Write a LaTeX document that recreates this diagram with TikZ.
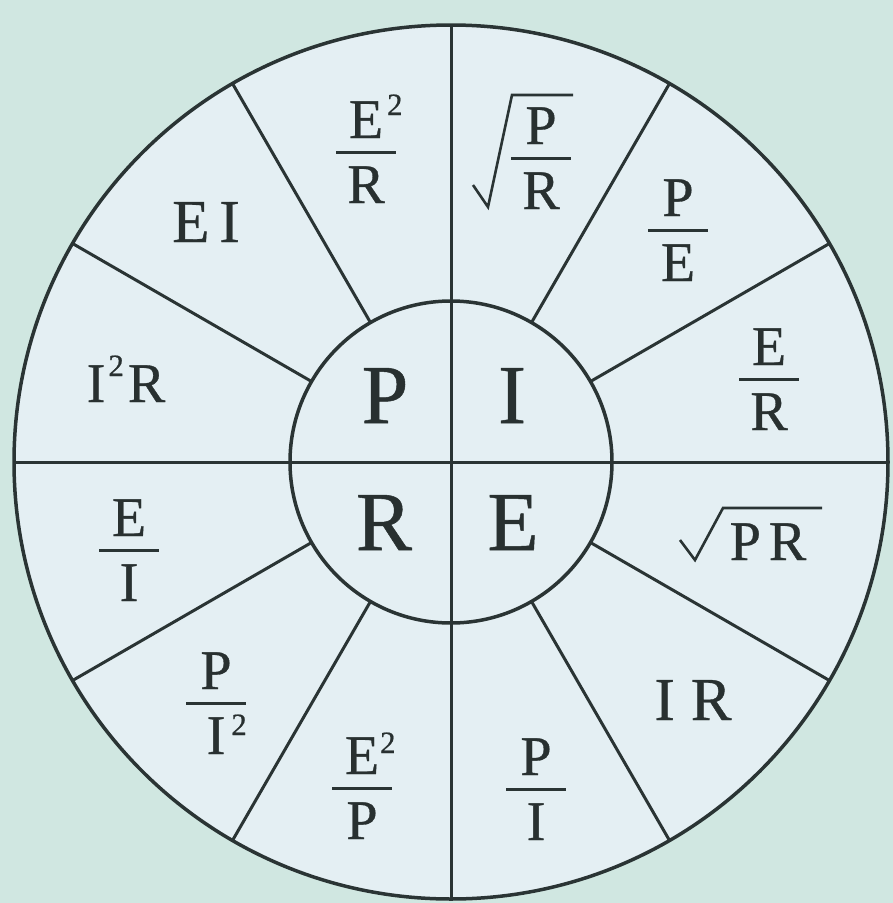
\documentclass[tikz,border=0pt]{standalone}
\usepackage{fontspec}
\setmainfont{Liberation Serif}[FakeBold=0.6]
\usetikzlibrary{calc}
\definecolor{bgout}{RGB}{208,231,225}
\definecolor{bgin}{RGB}{228,239,243}
\definecolor{linec}{RGB}{42,52,52}
\definecolor{textc}{RGB}{40,48,48}
\newcommand\mysup[2]{\raisebox{#1}{\fontsize{31}{31}\selectfont #2}}
\newcommand\fracnode[5]{%
  \node[ft,anchor=base] (#1-n) at (#2,#3-14) {#4};
  \node[ft,anchor=base] (#1-d) at (#2,#3+51) {#5};
  \draw[fracrule] (#2-30,#3) -- (#2+30,#3);
}
\begin{document}
\begin{tikzpicture}[x=1pt,y=-1pt,
  ln/.style={draw=linec,line width=3pt},
  circ/.style={draw=linec,line width=3.5pt},
  fracrule/.style={draw=linec,line width=3pt},
  radical/.style={draw=linec,line width=2.6pt,line join=miter},
  ft/.style={text=textc,font=\fontsize{56}{56}\selectfont,inner sep=0pt},
  ftl/.style={text=textc,font=\fontsize{61}{61}\selectfont,inner sep=0pt},
  big/.style={text=textc,font=\fontsize{84}{84}\selectfont,inner sep=0pt}]
\useasboundingbox (0,0) rectangle (893,903);
\fill[bgout] (0,0) rectangle (893,903);
\coordinate (c) at (451,462);
\fill[bgin] (c) circle[radius=437];
% spokes
\foreach \a in {30,60,120,150,210,240,300,330}
  \draw[ln] ($(c)+(\a:161)$) -- ($(c)+(\a:437)$);
\draw[ln] ($(c)+(-437,0)$) -- ($(c)+(437,0)$);
\draw[ln] ($(c)+(0,-437)$) -- ($(c)+(0,437)$);
\draw[circ] (c) circle[radius=437];
\draw[circ] (c) circle[radius=161];
% inner letters
\node[big,anchor=base] (P) at (385,423) {P};
\node[big,anchor=base] (I) at (512,423) {I};
\node[big,anchor=base] (R) at (384,550) {R};
\node[big,anchor=base] (E) at (513,550) {E};
% sectors
\node[ftl,anchor=base] (ei) at (206,242) {E\kern10pt I};
\node[ft,anchor=base] (i2r) at (126,402) {I\kern3pt\mysup{26pt}{2}\kern4pt R};
\node[ftl,anchor=base] (ir) at (693,720) {I\kern16pt R};
\fracnode{e2r}{366}{152}{E\rlap{\kern4pt\mysup{23pt}{2}}}{R}
\fracnode{pe}{678}{230}{P}{E}
\fracnode{er}{769}{379}{E}{R}
\fracnode{ei2}{129}{550}{E}{I}
\fracnode{pi2}{216}{703}{P}{I\rlap{\kern6pt\mysup{19pt}{2}}}
\fracnode{e2p}{362}{788}{E\rlap{\kern1pt\mysup{21pt}{2}}}{P}
\fracnode{pi}{536}{789}{P}{I}
\fracnode{spr}{541}{158}{P}{R}
\draw[radical] (473,185) -- (488,207) -- (512,95) -- (573,95);
\node[ft,anchor=base] (spr2) at (768,560) {P\kern8pt R};
\draw[radical] (680,540) -- (695,560) -- (723,508) -- (822,508);
\end{tikzpicture}
\end{document}
